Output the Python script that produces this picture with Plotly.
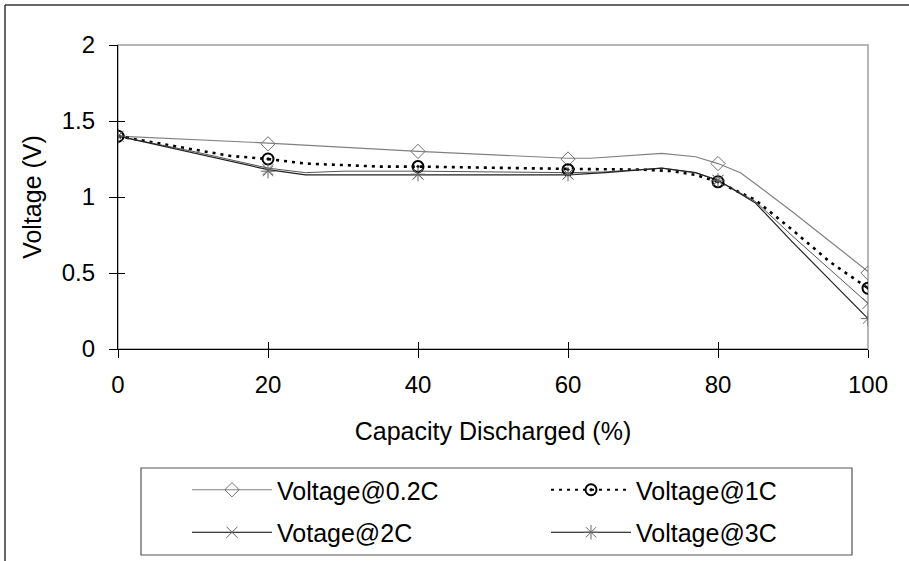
import plotly.graph_objects as go

# ---- data ----
capacity = [0, 20, 40, 60, 80, 100]
v_02C = [1.40, 1.35, 1.30, 1.25, 1.22, 0.50]
v_1C = [1.40, 1.25, 1.20, 1.18, 1.10, 0.40]
v_2C = [1.40, 1.18, 1.15, 1.15, 1.11, 0.30]
v_3C = [1.40, 1.17, 1.15, 1.15, 1.11, 0.20]

# drawn (smoothed) curves
curve_x_02C = [0, 20, 40, 60, 63, 72.5, 77, 80, 83, 90, 100]
curve_v_02C = [1.40, 1.355, 1.30, 1.255, 1.255, 1.287, 1.265, 1.22, 1.16, 0.90, 0.51]
curve_x_1C = [0, 8, 15, 20, 25, 35, 40, 60, 70, 74, 77, 80, 85, 90, 95, 100]
curve_v_1C = [1.40, 1.33, 1.27, 1.25, 1.22, 1.20, 1.20, 1.185, 1.18, 1.17, 1.145, 1.10, 0.98, 0.78, 0.57, 0.40]
curve_x_2C = [0, 10, 20, 25, 30, 40, 60, 65, 72.5, 77, 80, 85, 90, 95, 100]
curve_v_2C = [1.40, 1.30, 1.19, 1.16, 1.17, 1.17, 1.16, 1.165, 1.19, 1.16, 1.11, 0.97, 0.74, 0.52, 0.30]
curve_x_3C = [0, 10, 20, 25, 40, 60, 65, 72.5, 77, 80, 85, 90, 95, 100]
curve_v_3C = [1.40, 1.29, 1.18, 1.145, 1.145, 1.145, 1.16, 1.19, 1.16, 1.11, 0.96, 0.70, 0.45, 0.20]

x_ticks = [0, 20, 40, 60, 80, 100]
y_ticks = [0, 0.5, 1, 1.5, 2]
names = ["Voltage@0.2C", "Voltage@1C", "Votage@2C", "Voltage@3C"]

FONT = "Liberation Sans, Arial, sans-serif"

series = [
    dict(name=names[0], cx=curve_x_02C, cv=curve_v_02C, v=v_02C,
         lcolor="#808080", lwidth=1.2, dash="solid",
         symbol="diamond-open", msize=11, mcolor="#707070", mline=1,
         leg_lcolor="#808080", legend="legend"),
    dict(name=names[1], cx=curve_x_1C, cv=curve_v_1C, v=v_1C,
         lcolor="#000000", lwidth=2.6, dash="3px,5px",
         symbol="circle-open-dot", msize=11, mcolor="#000000", mline=2,
         leg_lcolor="#000000", legend="legend2"),
    dict(name=names[2], cx=curve_x_2C, cv=curve_v_2C, v=v_2C,
         lcolor="#555555", lwidth=1.0, dash="solid",
         symbol="x-thin-open", msize=11, mcolor="#666666", mline=1,
         leg_lcolor="#000000", legend="legend"),
    dict(name=names[3], cx=curve_x_3C, cv=curve_v_3C, v=v_3C,
         lcolor="#222222", lwidth=1.2, dash="solid",
         symbol="asterisk-open", msize=12, mcolor="#666666", mline=1,
         leg_lcolor="#000000", legend="legend2"),
]

fig = go.Figure()
for s in series:
    fig.add_trace(go.Scatter(
        x=s["cx"], y=s["cv"], mode="lines", showlegend=False, hoverinfo="skip",
        line=dict(color=s["lcolor"], width=s["lwidth"], dash=s["dash"])))
for s in series:
    fig.add_trace(go.Scatter(
        x=capacity, y=s["v"], mode="markers", showlegend=False, name=s["name"],
        marker=dict(symbol=s["symbol"], size=s["msize"], color=s["mcolor"],
                    line=dict(color=s["mcolor"], width=s["mline"]))))
for s in series:
    fig.add_trace(go.Scatter(
        x=[None], y=[None], mode="lines+markers", name=s["name"], showlegend=True,
        legend=s["legend"], legendgroup=s["name"],
        line=dict(color=s["leg_lcolor"], width=1.2 if s["dash"] == "solid" else 2.2,
                  dash=s["dash"]),
        marker=dict(symbol=s["symbol"], size=s["msize"], color=s["mcolor"],
                    line=dict(color=s["mcolor"], width=s["mline"]))))

# paper-coordinate helpers for frame decorations (plot area 118..868 x 45..349 px)
def px(x):
    return (x - 118) / 750.0

def py(y):
    return (349 - y) / 304.0

legend_common = dict(orientation="v", yanchor="top", xanchor="left", itemwidth=80,
                     font=dict(size=25), bgcolor="rgba(0,0,0,0)", borderwidth=0,
                     tracegroupgap=7, itemclick=False)

fig.update_layout(
    width=909, height=561,
    margin=dict(l=118, r=41, t=45, b=212, autoexpand=False),
    paper_bgcolor="white", plot_bgcolor="white",
    font=dict(family=FONT, size=24, color="black"),
    showlegend=True,
    legend=dict(x=px(187), y=py(467), **legend_common),
    legend2=dict(x=px(546), y=py(467), **legend_common),
    xaxis=dict(range=[0, 100], tickvals=x_ticks, showgrid=False, zeroline=False,
               showline=True, linecolor="black", linewidth=1.2,
               ticks="outside", ticklen=8, tickcolor="black", tickwidth=1,
               ticklabelstandoff=6,
               title=dict(text="Capacity Discharged (%)", font=dict(size=25), standoff=25)),
    yaxis=dict(range=[0, 2], tickvals=y_ticks, showgrid=False, zeroline=False,
               showline=True, linecolor="black", linewidth=1.2,
               ticks="outside", ticklen=8, tickcolor="black", tickwidth=1,
               ticklabelstandoff=9,
               title=dict(text="Voltage (V)", font=dict(size=25), standoff=12)),
    xaxis2=dict(range=[0, 100], overlaying="x", tickvals=x_ticks, showticklabels=False,
                ticks="inside", ticklen=7, tickcolor="black", showgrid=False,
                zeroline=False, showline=False, side="bottom"),
    yaxis2=dict(range=[0, 2], overlaying="y", tickvals=y_ticks, showticklabels=False,
                ticks="inside", ticklen=7, tickcolor="black", showgrid=False,
                zeroline=False, showline=False, side="left"),
    shapes=[
        # plot-area frame (top / right in gray)
        dict(type="rect", xref="paper", yref="paper", x0=0, y0=0, x1=1, y1=1,
             line=dict(color="#a0a0a0", width=1.5), layer="below"),
        # outer chart border (top and left visible)
        dict(type="line", xref="paper", yref="paper", x0=px(5), y0=py(5), x1=px(909), y1=py(5),
             line=dict(color="#333333", width=1.5)),
        dict(type="line", xref="paper", yref="paper", x0=px(5), y0=py(5), x1=px(5), y1=py(561),
             line=dict(color="#333333", width=1.5)),
        # legend box
        dict(type="rect", xref="paper", yref="paper", x0=px(141), y0=py(468), x1=px(852), y1=py(555),
             line=dict(color="#555555", width=1.2)),
    ],
)
# attach an invisible trace to the overlay axes so they are drawn
fig.add_trace(go.Scatter(x=[None], y=[None], xaxis="x2", yaxis="y2", showlegend=False,
                         hoverinfo="skip", mode="markers"))

fig.write_html("out.html", config={"displayModeBar": False},
               post_script="document.body.style.margin='0px';document.body.style.overflow='hidden';")
